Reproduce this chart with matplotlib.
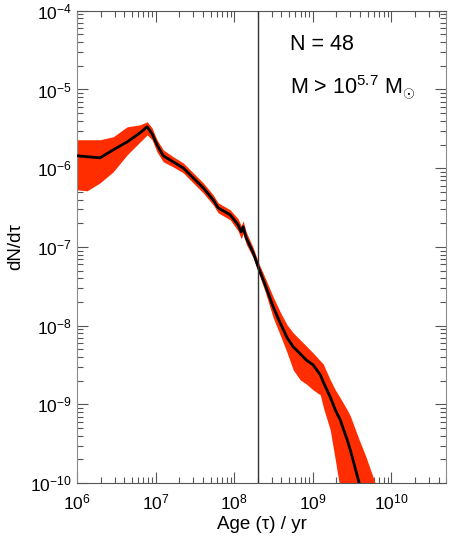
import matplotlib
matplotlib.use("Agg")
import matplotlib.pyplot as plt
from matplotlib.ticker import LogLocator, NullFormatter

plt.rcParams["font.family"] = ["Liberation Sans", "DejaVu Sans"]
plt.rcParams["mathtext.fontset"] = "custom"
plt.rcParams["mathtext.rm"] = "Liberation Sans"
plt.rcParams["mathtext.it"] = "Liberation Sans:italic"

# age grid (yr) and the dN/dtau curve with its spread
age = [1.0e6, 1.34e6, 1.96e6, 2.88e6, 4.34e6, 6.35e6, 7.8e6, 9.0e6, 1.04e7, 1.25e7,
       1.67e7, 2.24e7, 3.0e7, 4.03e7, 5.4e7, 6.25e7, 8.9e7, 1.12e8, 1.23e8, 1.30e8,
       1.42e8, 1.75e8, 2.02e8, 2.48e8, 3.14e8, 3.85e8, 4.73e8, 5.65e8, 6.93e8, 8.26e8,
       1.01e9, 1.25e9, 1.36e9, 1.67e9, 1.94e9, 2.24e9, 2.75e9, 3.01e9, 3.91e9, 4.67e9,
       6.25e9, 8.4e9]
dndt = [1.44e-6, 1.40e-6, 1.355e-6, 1.71e-6, 2.16e-6, 2.82e-6, 3.36e-6, 2.74e-6, 1.98e-6, 1.44e-6,
        1.205e-6, 1.01e-6, 7.55e-7, 5.64e-7, 3.96e-7, 3.14e-7, 2.56e-7, 1.91e-7, 1.556e-7, 1.80e-7,
        1.306e-7, 8.41e-8, 5.58e-8, 3.30e-8, 1.73e-8, 1.086e-8, 7.00e-9, 5.38e-9, 4.39e-9, 3.67e-9,
        3.18e-9, 2.37e-9, 1.93e-9, 1.245e-9, 8.51e-10, 6.35e-10, 3.54e-10, 2.64e-10, 1.0e-10, 5.28e-11,
        1.90e-11, 6.8e-12]
dndt_hi = [2.30e-6, 2.30e-6, 2.30e-6, 2.51e-6, 3.36e-6, 3.56e-6, 3.89e-6, 3.26e-6, 2.30e-6, 1.71e-6,
           1.40e-6, 1.17e-6, 8.75e-7, 6.52e-7, 4.59e-7, 3.63e-7, 2.96e-7, 2.28e-7, 1.85e-7, 2.15e-7,
           1.556e-7, 9.75e-8, 6.47e-8, 4.05e-8, 2.32e-8, 1.50e-8, 1.02e-8, 8.09e-9, 6.61e-9, 5.53e-9,
           4.51e-9, 3.57e-9, 3.27e-9, 2.05e-9, 1.53e-9, 1.21e-9, 8.51e-10, 7.14e-10, 3.54e-10, 2.28e-10,
           1.0e-10, 4.56e-11]
dndt_lo = [5.32e-7, 5.16e-7, 6.52e-7, 8.99e-7, 1.48e-6, 2.16e-6, 2.65e-6, 2.30e-6, 1.61e-6, 1.205e-6,
           1.04e-6, 8.75e-7, 6.52e-7, 4.86e-7, 3.43e-7, 2.71e-7, 2.21e-7, 1.60e-7, 1.27e-7, 1.47e-7,
           1.09e-7, 7.28e-8, 4.83e-8, 2.69e-8, 1.26e-8, 7.64e-9, 4.51e-9, 2.74e-9, 2.05e-9, 1.82e-9,
           1.53e-9, 1.32e-9, 9.29e-10, 4.74e-10, 1.97e-10, 8.2e-11, 3.40e-11, 2.54e-11, 1.06e-11, 5.9e-12,
           2.45e-12, 1.02e-12]
age_cut = 2.0e8
n_obj = 48
mass_exp = 5.7

fig = plt.figure(figsize=(4.59, 5.38), dpi=100)
ax = fig.add_axes([0.168, 0.102, 0.804, 0.878])

ax.fill_between(age, dndt_lo, dndt_hi, color="#ff2d00", linewidth=0, zorder=2)
ax.plot(age, dndt, color="black", linewidth=2.0, zorder=3)
ax.axvline(age_cut, color="#333333", linewidth=1.0, zorder=4)

ax.set_xscale("log")
ax.set_yscale("log")
ax.set_xlim(1e6, 5e10)
ax.set_ylim(1e-10, 1e-4)
ax.xaxis.set_major_locator(LogLocator(base=10, numticks=12))
ax.yaxis.set_major_locator(LogLocator(base=10, numticks=12))
for axis in (ax.xaxis, ax.yaxis):
    axis.set_minor_locator(LogLocator(base=10, subs=range(2, 10), numticks=12))
    axis.set_minor_formatter(NullFormatter())

ax.tick_params(which="both", direction="in", top=True, right=True, colors="#555555",
               labelcolor="black", labelsize=12.5)
ax.tick_params(which="major", length=8, width=0.8)
ax.tick_params(which="minor", length=4, width=0.8)
ax.tick_params(axis="x", pad=7)
ax.tick_params(axis="y", pad=4)
for side in ("left", "right"):
    ax.spines[side].set_color("#8c8c8c")
for side in ("top", "bottom"):
    ax.spines[side].set_color("#555555")

ax.set_xlabel("Age (τ) / yr", fontsize=13.5, labelpad=2)
ax.set_ylabel("dN/dτ", fontsize=13.5, labelpad=4)

ax.text(0.577, 0.928, f"N = {n_obj}", transform=ax.transAxes,
        fontsize=15.5, ha="left", va="center")
ax.text(0.577, 0.837, rf"M > 10$^{{{mass_exp}}}$ M$_{{\odot}}$", transform=ax.transAxes,
        fontsize=15.5, ha="left", va="center")

fig.savefig("out.png", dpi=100, facecolor="white")
